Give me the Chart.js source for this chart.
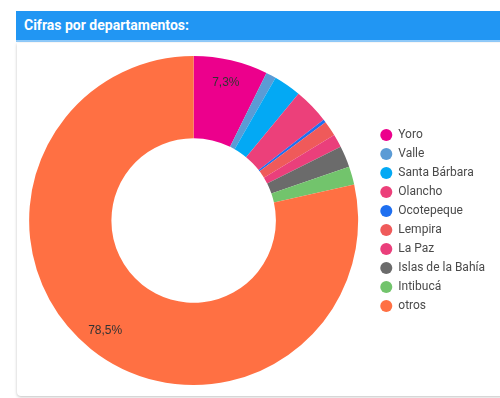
<!DOCTYPE html>
<html>
<head>
<meta charset="utf-8">
<script src="https://cdn.jsdelivr.net/npm/chart.js@4"></script>
<style>
  html, body { margin: 0; padding: 0; background: #fff; width: 500px; height: 398px; overflow: hidden; }
  #hdr { position: absolute; left: 16px; top: 11px; width: 484px; height: 29px; background: #2196f3;
         border-bottom: 2px solid #90caf9; box-sizing: content-box; }
  #hdr span { position: absolute; left: 8px; top: 6px; color: #fff; font: bold 14px Roboto, sans-serif; }
  #card { position: absolute; left: 17px; top: 43px; width: 490px; height: 353px; background: #fff;
          border-radius: 0 0 0 4px; box-shadow: 0 1px 3px rgba(0,0,0,0.25); }
  #wrap { position: absolute; left: 14px; top: 42px; width: 486px; height: 355px; }
</style>
</head>
<body>
<div id="hdr"><span>Cifras por departamentos:</span></div>
<div id="card"></div>
<div id="wrap"><canvas id="c"></canvas></div>
<script>
const categories = ["Yoro", "Valle", "Santa Bárbara", "Olancho", "Ocotepeque", "Lempira", "La Paz", "Islas de la Bahía", "Intibucá", "otros"];
const values = [7.3, 1.0, 2.7, 3.5, 0.3, 1.5, 1.3, 2.1, 1.8, 78.5];
const colors = ["#ec008c", "#5b9bd5", "#03a9f4", "#ec407a", "#1e6ff0", "#ef5a5a", "#ea3f7b", "#6b6b6b", "#72c46c", "#ff7043"];

const sliceLabels = {
  id: 'sliceLabels',
  afterDatasetsDraw(chart) {
    const ctx = chart.ctx;
    const meta = chart.getDatasetMeta(0);
    const data = chart.data.datasets[0].data;
    const total = data.reduce((a, b) => a + b, 0);
    ctx.save();
    ctx.font = '12px "Liberation Sans", Arial, sans-serif';
    ctx.fillStyle = '#333';
    ctx.textAlign = 'center';
    ctx.textBaseline = 'middle';
    meta.data.forEach((arc, i) => {
      const pct = data[i] / total * 100;
      if (pct < 5) return;
      const p = arc.getProps(['x', 'y', 'startAngle', 'endAngle', 'innerRadius', 'outerRadius'], true);
      const a = (p.startAngle + p.endAngle) / 2;
      const r = p.innerRadius + (p.outerRadius - p.innerRadius) * 0.72;
      ctx.fillText(pct.toFixed(1).replace('.', ',') + '%', p.x + Math.cos(a) * r, p.y + Math.sin(a) * r);
    });
    ctx.restore();
  }
};

new Chart(document.getElementById('c'), {
  type: 'doughnut',
  data: {
    labels: categories,
    datasets: [{
      data: values,
      backgroundColor: colors,
      borderWidth: 0
    }]
  },
  options: {
    responsive: true,
    maintainAspectRatio: false,
    animation: false,
    cutout: '50%',
    layout: { padding: { left: 0, right: 5, top: 14, bottom: 12 } },
    plugins: {
      legend: {
        position: 'right',
        labels: {
          usePointStyle: true,
          pointStyle: 'circle',
          boxWidth: 12,
          boxHeight: 8.5,
          padding: 7,
          color: '#4a4a4a',
          font: { family: 'Roboto, sans-serif', size: 12 }
        }
      },
      tooltip: { enabled: false }
    }
  },
  plugins: [sliceLabels]
});
</script>
</body>
</html>
